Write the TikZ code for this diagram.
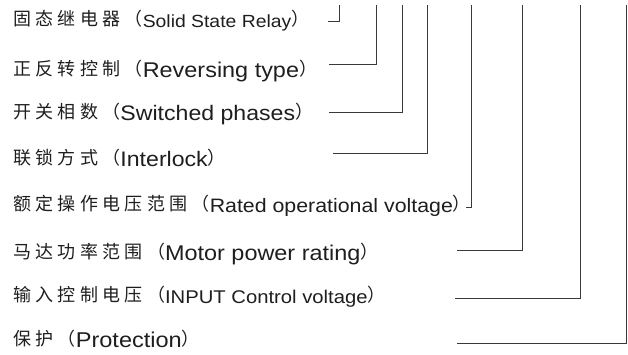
\documentclass[tikz,border=0pt]{standalone}
\usepackage{fontspec}
\setmainfont{Liberation Sans}[FakeStretch=1.1]
\newfontfamily\cjk{Noto Sans CJK SC}[LetterSpace=24]
\usepackage{xcolor}
\definecolor{inkgray}{HTML}{1E1E1E}
\definecolor{leadgray}{HTML}{3A3A3A}

\newcommand\zh[1]{\raisebox{1.8pt}{\fontsize{18}{20}\cjk #1}}

\begin{document}
\begin{tikzpicture}[x=1pt,y=-1pt,
  lbl/.style={anchor=base west,inner sep=0pt,text=inkgray},
  lead/.style={draw=leadgray,line width=0.9pt}]
\useasboundingbox (0,0) rectangle (628,354);
% labels
\node[lbl] (ssr)   at (13,27.7) {\zh{固态继电器（}{\fontsize{17.6}{20}\selectfont Solid State Relay}\zh{）}};
\node[lbl] (rev)   at (13,77)   {\zh{正反转控制（}{\fontsize{21.3}{24}\selectfont Reversing type}\zh{）}};
\node[lbl] (phase) at (13,120.5){\zh{开关相数（}{\fontsize{21}{24}\selectfont Switched phases}\zh{）}};
\node[lbl] (lock)  at (13,166)  {\zh{联锁方式（}{\fontsize{21}{24}\selectfont Interlock}\zh{）}};
\node[lbl] (volt)  at (13,212.7){\zh{额定操作电压范围（}{\fontsize{19.4}{22}\selectfont Rated operational voltage}\zh{）}};
\node[lbl] (motor) at (13,260)  {\zh{马达功率范围（}{\fontsize{21.3}{24}\selectfont Motor power rating}\zh{）}};
\node[lbl] (input) at (13,303.3){\zh{输入控制电压（}{\fontsize{18.4}{22}\selectfont INPUT Control voltage}\zh{）}};
\node[lbl] (prot)  at (13,347)  {\zh{保护（}{\fontsize{21.4}{24}\selectfont Protection}\zh{）}};
% leader lines
\coordinate (ssr-l)   at (328,21);  \coordinate (ssr-t)   at (339,5);
\coordinate (rev-l)   at (329,64);  \coordinate (rev-t)   at (376,5);
\coordinate (phase-l) at (329,112); \coordinate (phase-t) at (402,5);
\coordinate (lock-l)  at (333,153); \coordinate (lock-t)  at (427,5);
\coordinate (volt-l)  at (466,207); \coordinate (volt-t)  at (471,5);
\coordinate (motor-l) at (457,250); \coordinate (motor-t) at (522,5);
\coordinate (input-l) at (455,298); \coordinate (input-t) at (580,5);
\coordinate (prot-l)  at (457,343); \coordinate (prot-t)  at (626.5,5);
\foreach \n in {ssr,rev,phase,lock,volt,motor,input,prot}
  \draw[lead] (\n-l) -| (\n-t);
\end{tikzpicture}
\end{document}
